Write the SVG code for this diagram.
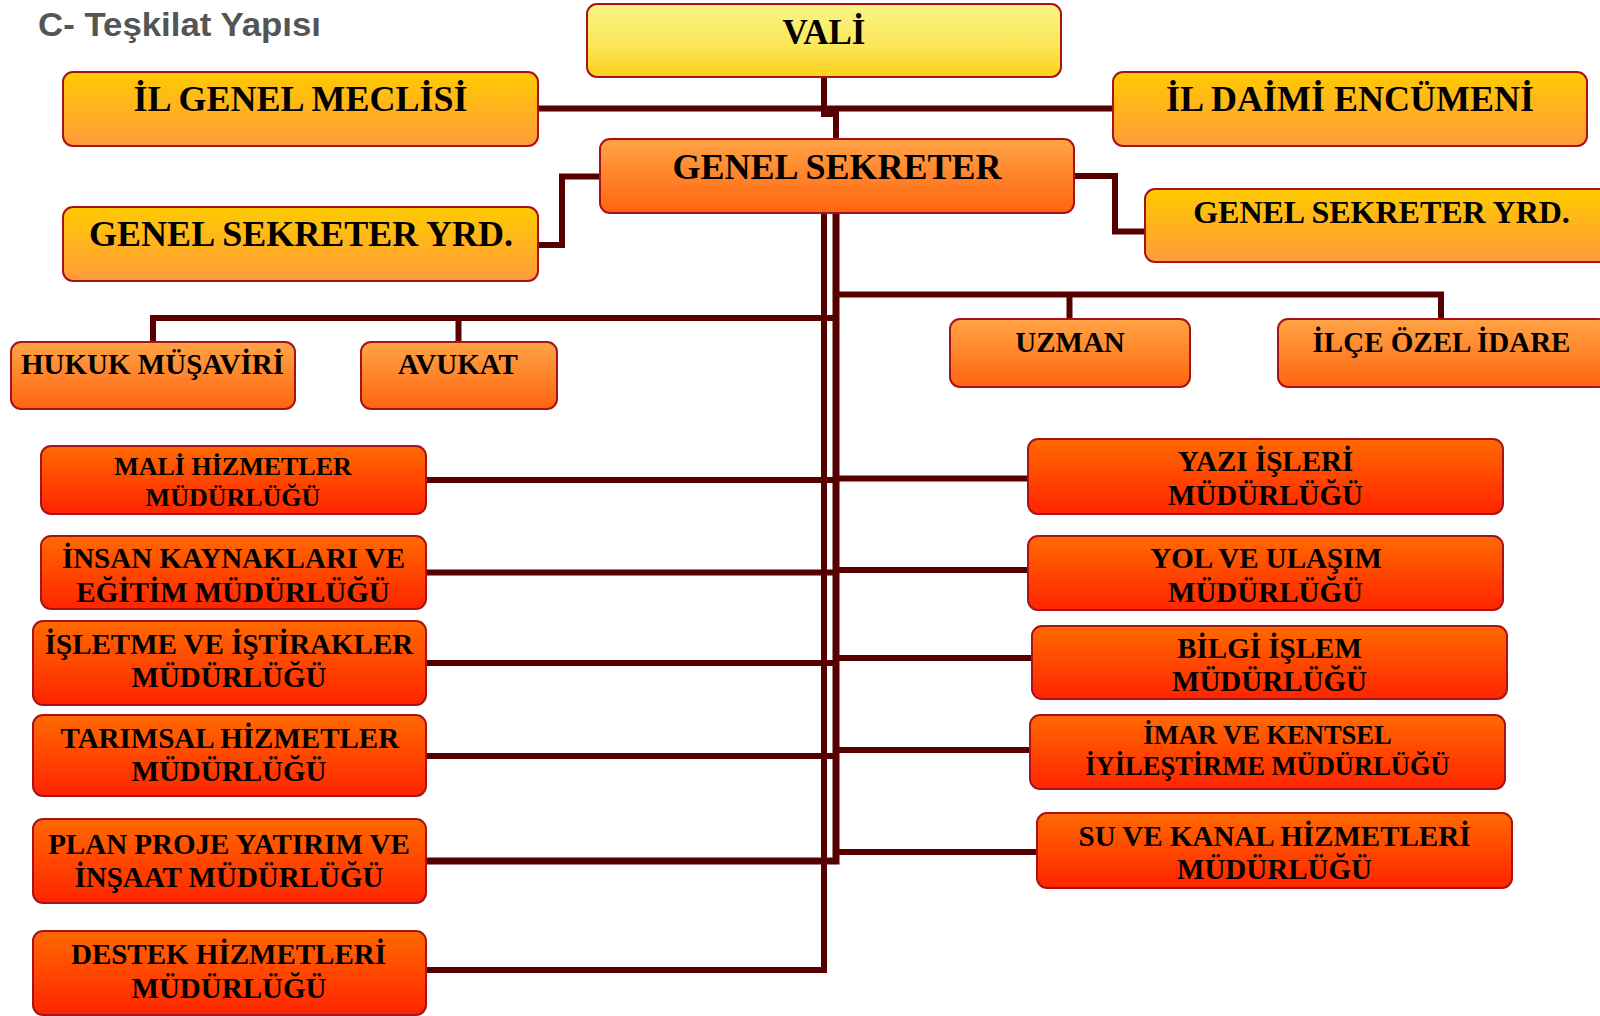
<svg xmlns="http://www.w3.org/2000/svg" width="1600" height="1016" viewBox="0 0 1600 1016">
<defs>
<linearGradient id="gVali" x1="0" y1="0" x2="0" y2="1"><stop offset="0" stop-color="#f9f586"/><stop offset="0.55" stop-color="#fbe85a"/><stop offset="1" stop-color="#ffcf1a"/></linearGradient>
<linearGradient id="gGold" x1="0" y1="0" x2="0" y2="1"><stop offset="0" stop-color="#ffcb00"/><stop offset="1" stop-color="#ff9a3c"/></linearGradient>
<linearGradient id="gOrange" x1="0" y1="0" x2="0" y2="1"><stop offset="0" stop-color="#ffa446"/><stop offset="1" stop-color="#ff6410"/></linearGradient>
<linearGradient id="gRed" x1="0" y1="0" x2="0" y2="1"><stop offset="0" stop-color="#ff6a00"/><stop offset="1" stop-color="#ff2400"/></linearGradient>
</defs>
<style>
.box{stroke:#a8121a;stroke-width:2}
.vali{fill:url(#gVali)}
.gold{fill:url(#gGold)}
.orange{fill:url(#gOrange)}
.red{fill:url(#gRed)}
text{font-family:"Liberation Serif","Times New Roman",serif;font-weight:bold;fill:#000;text-anchor:middle}
.t36{font-size:36px}
.t29{font-size:29px}
.t26{font-size:26px}
.title{font-family:"Liberation Sans",Arial,sans-serif;font-size:33px;fill:#555555;text-anchor:start}
.ln{fill:none;stroke:#560000;stroke-width:6;stroke-linejoin:miter;stroke-linecap:butt}
</style>
<rect width="1600" height="1016" fill="#ffffff"/>
<text class="title" x="38" y="35.5" textLength="283" lengthAdjust="spacingAndGlyphs">C- Teşkilat Yapısı</text>

<g id="connectors">
<path class="ln" d="M824 77 V114 H836 V139"/>
<path class="ln" d="M538 108.5 H1113"/>
<path class="ln" d="M600 176.5 H562 V245 H538"/>
<path class="ln" d="M1074 176 H1115 V231.5 H1145"/>
<path class="ln" d="M824 213 V970 H426"/>
<path class="ln" d="M836 213 V861 H426" style="stroke-width:7"/>
<path class="ln" d="M836 294.5 H1441 V319"/>
<path class="ln" d="M1069.5 294.5 V319"/>
<path class="ln" d="M153 342 V318 H836"/>
<path class="ln" d="M458.5 318 V342"/>
<path class="ln" d="M426 480 H836"/>
<path class="ln" d="M426 572.5 H836"/>
<path class="ln" d="M426 663 H836"/>
<path class="ln" d="M426 756 H836"/>
<path class="ln" d="M836 478.5 H1028"/>
<path class="ln" d="M836 570 H1028"/>
<path class="ln" d="M836 658 H1032"/>
<path class="ln" d="M836 750 H1030"/>
<path class="ln" d="M836 852 H1037"/>
</g>

<g id="vali"><rect class="box vali" x="587" y="4" width="474" height="73" rx="10"/><text x="824" y="43.5" style="font-size:35px">VALİ</text></g>
<g id="il-genel-meclisi"><rect class="box gold" x="63" y="72" width="475" height="74" rx="10"/><text class="t36" x="300.5" y="111">İL GENEL MECLİSİ</text></g>
<g id="il-daimi-encumeni"><rect class="box gold" x="1113" y="72" width="474" height="74" rx="10"/><text class="t36" x="1350" y="111">İL DAİMİ ENCÜMENİ</text></g>
<g id="genel-sekreter"><rect class="box orange" x="600" y="139" width="474" height="74" rx="10"/><text class="t36" x="837" y="179">GENEL SEKRETER</text></g>
<g id="gs-yrd-left"><rect class="box gold" x="63" y="207" width="475" height="74" rx="10"/><text class="t36" x="301" y="246">GENEL SEKRETER YRD.</text></g>
<g id="gs-yrd-right"><rect class="box gold" x="1145" y="189" width="480" height="73" rx="10"/><text x="1381.5" y="222.7" style="font-size:32px">GENEL SEKRETER YRD.</text></g>

<g id="hukuk-musaviri"><rect class="box orange" x="11" y="342" width="284" height="67" rx="10"/><text class="t29" x="152.5" y="374">HUKUK MÜŞAVİRİ</text></g>
<g id="avukat"><rect class="box orange" x="361" y="342" width="196" height="67" rx="10"/><text class="t29" x="458" y="374">AVUKAT</text></g>
<g id="uzman"><rect class="box orange" x="950" y="319" width="240" height="68" rx="10"/><text class="t29" x="1070" y="352">UZMAN</text></g>
<g id="ilce-ozel-idare"><rect class="box orange" x="1278" y="319" width="330" height="68" rx="10"/><text class="t29" x="1441.5" y="352">İLÇE ÖZEL İDARE</text></g>

<g id="mali"><rect class="box red" x="41" y="446" width="385" height="68" rx="10"/><text class="t26" x="233" y="475">MALİ HİZMETLER</text><text class="t26" x="233" y="505.5">MÜDÜRLÜĞÜ</text></g>
<g id="insan"><rect class="box red" x="41" y="536" width="385" height="73" rx="10"/><text class="t29" x="233.5" y="568">İNSAN KAYNAKLARI VE</text><text class="t29" x="233" y="601.7">EĞİTİM MÜDÜRLÜĞÜ</text></g>
<g id="isletme"><rect class="box red" x="33" y="621" width="393" height="84" rx="10"/><text class="t29" x="229" y="653.8">İŞLETME VE İŞTİRAKLER</text><text class="t29" x="229" y="687.3">MÜDÜRLÜĞÜ</text></g>
<g id="tarimsal"><rect class="box red" x="33" y="715" width="393" height="81" rx="10"/><text class="t29" x="229.8" y="747.8">TARIMSAL HİZMETLER</text><text class="t29" x="229" y="781">MÜDÜRLÜĞÜ</text></g>
<g id="plan-proje"><rect class="box red" x="33" y="819" width="393" height="84" rx="10"/><text class="t29" x="229" y="853.5">PLAN PROJE YATIRIM VE</text><text class="t29" x="229" y="887">İNŞAAT MÜDÜRLÜĞÜ</text></g>
<g id="destek"><rect class="box red" x="33" y="931" width="393" height="84" rx="10"/><text class="t29" x="228.5" y="963.7">DESTEK HİZMETLERİ</text><text class="t29" x="229" y="998">MÜDÜRLÜĞÜ</text></g>

<g id="yazi-isleri"><rect class="box red" x="1028" y="439" width="475" height="75" rx="10"/><text class="t29" x="1265.5" y="471">YAZI İŞLERİ</text><text class="t29" x="1265.5" y="505">MÜDÜRLÜĞÜ</text></g>
<g id="yol-ulasim"><rect class="box red" x="1028" y="536" width="475" height="74" rx="10"/><text class="t29" x="1266" y="567.7">YOL VE ULAŞIM</text><text class="t29" x="1265.5" y="601.7">MÜDÜRLÜĞÜ</text></g>
<g id="bilgi-islem"><rect class="box red" x="1032" y="626" width="475" height="73" rx="10"/><text class="t29" x="1269.5" y="657.7">BİLGİ İŞLEM</text><text class="t29" x="1269.5" y="691">MÜDÜRLÜĞÜ</text></g>
<g id="imar"><rect class="box red" x="1030" y="715" width="475" height="74" rx="10"/><text x="1267.5" y="744" style="font-size:26.5px">İMAR VE KENTSEL</text><text x="1267.5" y="775" style="font-size:26.5px">İYİLEŞTİRME MÜDÜRLÜĞÜ</text></g>
<g id="su-kanal"><rect class="box red" x="1037" y="813" width="475" height="75" rx="10"/><text class="t29" x="1274.5" y="845.7">SU VE KANAL HİZMETLERİ</text><text class="t29" x="1274.5" y="879.3">MÜDÜRLÜĞÜ</text></g>
</svg>
